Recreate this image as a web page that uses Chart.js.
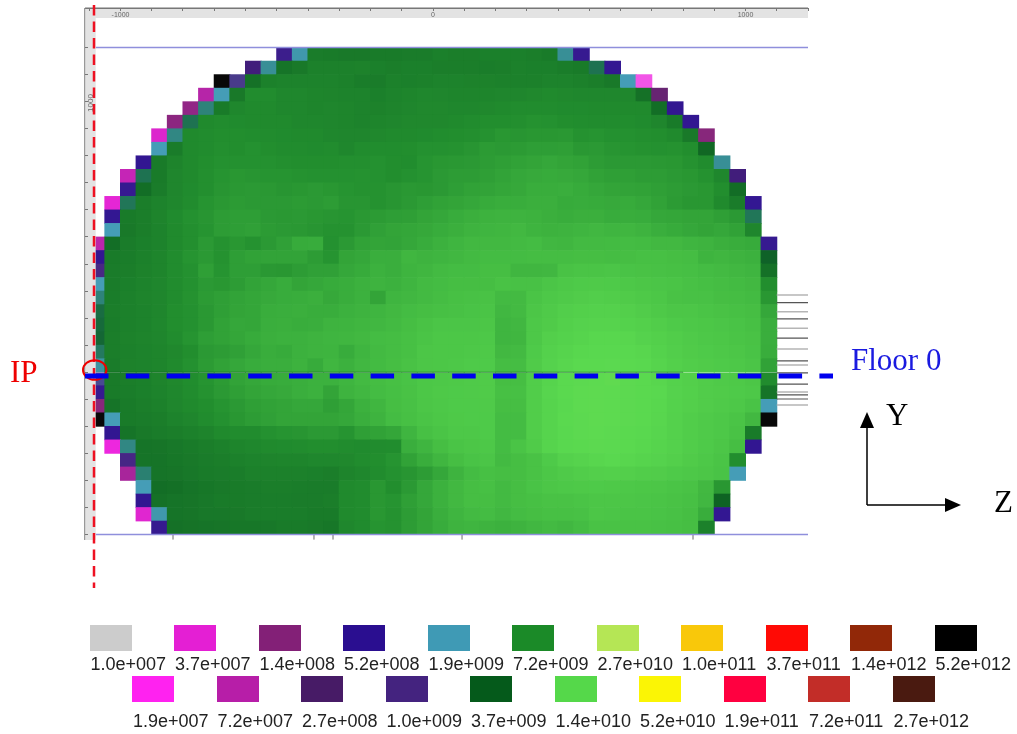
<!DOCTYPE html>
<html>
<head>
<meta charset="utf-8">
<title>Flux map</title>
<script src="https://cdn.jsdelivr.net/npm/chart.js@4/dist/chart.umd.min.js"></script>
<style>
  body { margin: 0; background: #fff; width: 1017px; height: 734px; position: relative; overflow: hidden; }
  canvas { position: absolute; left: 0; top: 0; filter: blur(0.6px); }
  .sw { position: absolute; width: 42px; height: 26px; }
  .lb { position: absolute; font: 18px "Liberation Sans", Arial, sans-serif; color: #222; line-height: 20px; white-space: nowrap; }
  .note { position: absolute; font: 31px "Liberation Serif", "Times New Roman", serif; line-height: 30px; white-space: nowrap; }
</style>
</head>
<body>
<canvas id="map" width="1017" height="734"></canvas>
<script>
// ================================================================
//  DATA
// ================================================================
const legendTopLabels = ['1.0e+007', '3.7e+007', '1.4e+008', '5.2e+008', '1.9e+009', '7.2e+009', '2.7e+010', '1.0e+011', '3.7e+011', '1.4e+012', '5.2e+012'];
const legendTopColors = ['#cccccc', '#e41fd4', '#832077', '#2a0e90', '#3f9ab5', '#1b8a28', '#b5e655', '#f9c80a', '#ff0a05', '#912808', '#000000'];
const legendLowLabels = ['1.9e+007', '7.2e+007', '2.7e+008', '1.0e+009', '3.7e+009', '1.4e+010', '5.2e+010', '1.9e+011', '7.2e+011', '2.7e+012'];
const legendLowColors = ['#ff22f0', '#b71ea8', '#471b66', '#44237f', '#055a1b', '#55d84a', '#fbf505', '#ff0040', '#c22d28', '#4a1a10'];

const xTicks = [-1100, -1000, -900, -800, -700, -600, -500, -400, -300, -200, -100, 0, 100, 200, 300, 400, 500, 600, 700, 800, 900, 1000, 1100, 1200];
const xTickLabels = [-1000, 0, 1000];
const yTicks = [1200, 1100, 1000, 900, 800, 700, 600, 500, 400, 300, 200, 100, 0, -100, -200, -300, -400, -500, -600];

// first occupied column of each row, 50 mm cells, top row first
const rowStart = [12, 10, 8, 7, 6, 5, 4, 4, 3, 2, 2, 1, 1, 1, 0, 0, 0, 0, 0, 0, 0, 0, 0, 0, 0, 0, 0, 0, 1, 1, 2, 2, 3, 3, 3, 4];

// flux per cell in units of 1e9
const fluxRows = [
  [0.7, 2.0, 5.6, 5.5, 5.4, 5.4, 5.5, 5.5, 5.6, 5.6, 5.9, 5.8, 5.8, 5.9, 5.9, 5.9, 5.8, 5.5, 2.2, 0.6],
  [0.35, 2.2, 5, 5.4, 6, 6, 6, 6.1, 5.9, 5.8, 5.9, 5.9, 5.8, 5.8, 5.8, 5.7, 5.8, 6, 5.9, 5.9, 5.7, 5.5, 3, 0.55],
  [5200, 1.1, 4.8, 6, 6.2, 6.2, 6.2, 6.2, 6, 5.7, 5.6, 6, 5.9, 6, 6.2, 6.2, 6.1, 6.1, 6, 6, 6, 6.2, 6.2, 6, 5.8, 5.4, 1.9, 0.016],
  [0.075, 1.9, 5.4, 7, 7, 6.6, 6.6, 6.4, 6.3, 6.2, 6.2, 5.9, 6.2, 6.4, 6.6, 6.5, 6.4, 6.4, 6.4, 6.5, 6.5, 6.7, 6.8, 6.7, 6.6, 6.6, 6.6, 6.6, 4.8, 0.2],
  [0.12, 2.5, 5.5, 6.6, 6.8, 6.8, 6.6, 6.6, 6.4, 6.5, 6.4, 6.2, 6.1, 6.3, 6.5, 6.7, 6.7, 6.6, 6.6, 6.7, 6.8, 7, 7, 7, 6.9, 6.9, 6.8, 6.8, 6.8, 6.8, 4.6, 0.5],
  [0.13, 3, 6.8, 7, 6.9, 6.8, 6.8, 6.8, 6.6, 6.6, 6.5, 6.4, 6.2, 6.4, 6.5, 6.7, 6.7, 6.7, 6.8, 7, 7.2, 7.2, 7.3, 7.5, 7.4, 7.2, 7.1, 7, 7, 7.1, 6.9, 6.5, 5.5, 0.5],
  [0.042, 2.4, 6.8, 7, 7.2, 7.2, 7.1, 7, 6.9, 6.8, 6.8, 6.6, 6.5, 6.5, 6.7, 6.8, 6.8, 6.9, 7.1, 7.2, 7.3, 7.5, 7.8, 7.7, 7.8, 7.8, 7.9, 7.5, 7.6, 7.4, 7.4, 7.3, 7.2, 6.8, 5.4, 0.14],
  [1.9, 5.6, 6.8, 7, 7.3, 7.2, 7.4, 7.2, 7, 7, 6.9, 7, 6.6, 7, 7.1, 7.1, 7.2, 7.4, 7.4, 7.5, 7.7, 8.1, 8, 8.1, 8.3, 8.3, 8.4, 7.9, 8, 7.7, 7.6, 7.5, 7.4, 7.5, 7.2, 4.2],
  [0.5, 5.5, 6.3, 6.8, 7.2, 7.4, 7.4, 7.4, 7.4, 7.3, 7.2, 7.2, 7.2, 7.3, 7.3, 7.4, 7.2, 7.1, 7.6, 7.8, 7.9, 8, 8.2, 8.4, 8.6, 8.8, 9, 8.8, 8.6, 8.2, 8, 8, 8, 7.9, 7.8, 7.5, 7, 2.2],
  [0.06, 3, 5.5, 6.5, 6.8, 7.3, 7.6, 7.8, 7.7, 7.6, 7.6, 7.5, 7.4, 7.4, 7.4, 7.5, 7.4, 7.2, 7.4, 7.6, 8, 8.2, 8.2, 8.4, 8.7, 9, 9.2, 9.3, 9.2, 9, 8.6, 8.4, 8.4, 8.2, 8.2, 8, 7.8, 7.5, 6.6, 0.35],
  [0.6, 4.6, 5.6, 6.5, 6.9, 7.3, 7.7, 7.9, 8, 7.9, 7.7, 7.8, 8, 7.8, 7.6, 7.5, 7.5, 7.7, 7.9, 7.8, 8, 8.3, 8.6, 8.7, 8.9, 9.1, 9.5, 9.5, 9.6, 9.3, 9, 8.8, 8.7, 8.6, 8.4, 8.2, 8, 7.8, 7.2, 4.5],
  [0.037, 2.9, 5.8, 6.2, 6.6, 7, 7.6, 7.9, 8.1, 8, 8, 8, 8.1, 8, 8.2, 7.7, 7.7, 7.5, 7.7, 8, 8.3, 8.6, 8.8, 9, 9.3, 9.5, 9.5, 9.7, 9.7, 9.3, 9.4, 9.3, 9.2, 9.3, 9, 8.6, 8.1, 7.8, 7.8, 6.8, 5.6, 0.55],
  [0.55, 5.5, 5.8, 6.3, 6.9, 7.4, 7.7, 8.2, 8.3, 8.3, 8, 7.9, 8, 7.8, 7.7, 7.6, 7.9, 8.1, 8.3, 8.4, 8.8, 9, 9.4, 9.7, 9.9, 10, 10, 9.9, 9.7, 9.5, 9.7, 9.7, 9.4, 9.5, 9.4, 9, 8.9, 8.8, 8.8, 8.4, 8, 2.9],
  [1.9, 5.4, 5.8, 6.2, 6.8, 7.3, 7.6, 8.2, 8.3, 8.5, 8.1, 8, 7.9, 7.7, 7.5, 7.5, 8, 8.5, 8.8, 8.9, 9.1, 9.4, 9.7, 10, 10.2, 10.3, 10.5, 10.1, 9.9, 10, 10.2, 10.4, 10.2, 10.3, 10, 9.6, 9.3, 9, 8.8, 9, 8.6, 6.5],
  [0.07, 4.6, 5.6, 5.9, 6.2, 6.8, 7.3, 8, 7.5, 7.8, 7.5, 8, 8.5, 9.3, 9.4, 7.4, 8, 8.6, 8.8, 8.7, 9, 9.4, 9.8, 10.2, 10.5, 10.5, 10.5, 10.6, 10.8, 10.4, 10.3, 10.6, 10.6, 10.7, 10.8, 10.7, 10.5, 10.5, 10.2, 10, 9.7, 9.5, 9.3, 0.6],
  [0.5, 5.5, 5.7, 6, 6.4, 7, 7.6, 8, 7.5, 8.3, 8.6, 8.7, 8.7, 8.7, 8.2, 7.6, 8.8, 9, 9.6, 9.6, 10.3, 10, 10.2, 10.4, 10.6, 10.8, 10.8, 10.8, 10.9, 10.9, 10.9, 11, 11, 10.9, 11, 11.2, 11.2, 11, 10.9, 10.1, 10.3, 10, 9.8, 3.6],
  [0.95, 5.6, 5.8, 6.1, 6.4, 7, 7.4, 8.4, 7.6, 8.3, 8.3, 7.9, 7.8, 8.2, 8.5, 8.5, 9, 9.3, 9.8, 9.6, 10.1, 10.3, 10.6, 10.8, 10.8, 11, 11, 10.3, 10.3, 10.4, 11.4, 11.6, 11.6, 11.7, 11.5, 11.4, 11.3, 11.2, 11.1, 10.8, 10.6, 10.4, 10.2, 4.8],
  [1.9, 5.6, 5.9, 6.2, 6.5, 7, 7.4, 8, 7.8, 8.2, 8.7, 9, 9.4, 8.8, 9, 9.3, 9.5, 9.8, 10, 9.8, 10.2, 10.6, 10.8, 11, 11, 11, 11.4, 11.3, 11.3, 11.7, 12, 12.2, 12.3, 12.2, 12, 11.8, 11.7, 11.6, 11.3, 11.1, 10.9, 10.7, 10.5, 7.2],
  [2.5, 5.7, 6, 6.3, 6.5, 7, 7.5, 8.1, 8.4, 8.7, 8.9, 9.2, 9.4, 9.5, 9.7, 9.1, 9.5, 9.8, 8.8, 10.2, 10.4, 10.6, 10.9, 11.2, 11.3, 11.4, 10.6, 10.6, 11.6, 12, 12.3, 12.5, 12.7, 12.6, 12.4, 12.1, 11.9, 11.4, 11.3, 11.3, 11, 10.9, 10.7, 7.8],
  [3.2, 5.8, 6, 6.2, 6.5, 7.2, 7.4, 7.9, 8.4, 8.8, 8.9, 9.5, 9.6, 9.7, 9.5, 9.5, 9.8, 10, 10.2, 10.5, 10.8, 11, 11.2, 11.3, 11.5, 11.6, 10.4, 10.6, 11.8, 12.3, 12.7, 12.9, 13, 13, 12.8, 12.5, 12.1, 11.8, 11.8, 11.6, 11.4, 11.2, 11, 9],
  [3.3, 5.7, 6, 6.2, 6.6, 7.2, 7.4, 7.9, 8.6, 9, 8.9, 9.6, 9.7, 9.5, 9.6, 10, 10.1, 10.3, 10.4, 10.6, 11, 11.4, 11.7, 11.7, 11.7, 11.8, 10.2, 10.4, 12, 12.4, 12.9, 13.2, 13.3, 13.3, 13.1, 12.9, 12.6, 12.2, 12, 11.9, 11.7, 11.5, 11.2, 9.6],
  [3.4, 5.8, 6.1, 6.3, 6.5, 7, 7.6, 8.3, 8.6, 8.9, 9.3, 9.7, 9.8, 9.8, 10, 10.2, 10.3, 10.5, 10.8, 10.9, 11.2, 11.6, 11.9, 11.9, 11.9, 12, 10.2, 10.3, 12, 12.8, 13.1, 13.4, 13.7, 13.7, 13.6, 13.2, 12.9, 12.6, 12.3, 12, 11.9, 11.6, 11.4, 9.6],
  [2.8, 5.8, 6, 6.2, 6.4, 6.7, 7.2, 8, 8.2, 8.5, 9, 9.5, 9.3, 9.8, 10, 10.1, 9.4, 10.2, 10.6, 10.9, 11.2, 11.8, 11.9, 11.9, 12, 12.1, 10.5, 10.6, 12.2, 13, 13.4, 13.7, 13.8, 13.9, 13.9, 13.6, 13.1, 12.7, 12.4, 12.2, 12, 11.8, 11.5, 9.5],
  [2.1, 5.6, 6.1, 6.2, 6.4, 6.8, 7.4, 8.1, 8.6, 9, 9.4, 9.6, 9.6, 9.9, 9.3, 10.3, 9.8, 10.4, 10.7, 11, 11.4, 11.8, 11.9, 12, 12.2, 12.2, 10.9, 10.9, 12.4, 13.2, 13.6, 14, 14, 14.1, 14, 13.8, 13.4, 12.9, 12.6, 12.4, 12.2, 12, 11.7, 8.6],
  [1.2, 5.5, 5.8, 5.9, 6.3, 6.7, 7.1, 7.6, 8.1, 8.7, 9, 9.3, 9.4, 9.6, 9.8, 9.8, 10.2, 10.6, 10.9, 11.2, 11.5, 11.9, 12, 12.1, 12.3, 12.4, 11, 11, 12.6, 13.4, 14, 14.2, 14.3, 14.6, 14.2, 14, 13.6, 13.1, 12.8, 12.5, 12.3, 12.1, 11.8, 7],
  [0.6, 5.5, 5.7, 5.9, 6.2, 6.6, 7, 7.5, 8, 8.4, 8.8, 9, 9.2, 9.6, 9.8, 8.8, 10, 10.4, 10.8, 11.1, 11.4, 11.9, 12.1, 12.2, 12.3, 12.4, 11.2, 11.2, 12.6, 13.5, 14, 14.3, 14.4, 14.3, 14.2, 14, 13.8, 13.2, 12.9, 12.5, 12.4, 12.2, 12, 5],
  [0.14, 5, 5.5, 5.8, 6, 6.5, 6.8, 7.2, 7.6, 8, 8.4, 8.6, 8.8, 9, 9, 8.4, 8.9, 9.8, 10.3, 11, 11.3, 11.8, 12, 12.2, 12.2, 12.3, 11, 11, 12.6, 13.4, 13.9, 14.3, 14.4, 14.3, 14.2, 14, 13.7, 13.1, 12.8, 12.5, 12.3, 12, 11.5, 1.9],
  [5200, 1.9, 5.5, 5.6, 5.8, 6.2, 6.5, 7, 7.4, 7.8, 8.2, 8.5, 8.8, 8.8, 8.8, 8.8, 9, 9.6, 10, 10.8, 11.2, 11.6, 11.9, 12.1, 12.2, 12.2, 10.8, 10.8, 12.6, 13.4, 14, 14.2, 14.4, 14.3, 14.2, 14, 13.6, 13, 12.6, 12.3, 12, 11.6, 10.5, 5200],
  [0.5, 5, 5.4, 5.6, 5.8, 6, 6.3, 6.8, 7, 7, 7.4, 7.6, 7.7, 8, 8, 7.6, 8.4, 8.6, 8.9, 10.2, 11.2, 11.6, 12, 12, 12.2, 10.8, 10.8, 12.6, 13.4, 13.9, 14.2, 14.3, 14.2, 14, 13.9, 13.5, 13, 12.6, 12.3, 12, 11.4, 5.5],
  [0.03, 2.4, 5, 5.1, 5.3, 5.5, 5.8, 6, 6.4, 6.6, 6.8, 6.9, 7, 7.2, 7.2, 7, 6.9, 7, 7.1, 9.6, 10.2, 11, 11.6, 11.8, 12, 10.8, 11.6, 12.4, 13.4, 13.8, 14, 14.2, 14.1, 14, 13.7, 13.4, 13, 12.6, 12.2, 11.8, 11, 0.5],
  [0.9, 5, 5, 5.2, 5.4, 5.6, 5.8, 6, 6.2, 6.3, 6.4, 6.4, 6.6, 6.6, 6.7, 7, 7.2, 7.6, 8.6, 9.5, 10.3, 11, 11.5, 11.7, 10.6, 11, 11.4, 12.2, 13, 13.3, 13.6, 13.8, 13.6, 13.4, 13.2, 12.8, 12.4, 12, 11.6, 7.2],
  [0.09, 2.6, 5, 5.1, 5.3, 5.5, 5.6, 5.7, 6, 6, 6, 6, 5.9, 5.8, 6.3, 6.6, 7, 7.4, 7.7, 8.2, 9, 10, 10.8, 11.2, 11, 11, 11.4, 11.9, 12.3, 12.6, 12.8, 12.9, 12.8, 12.6, 12.5, 12.2, 12, 11.8, 11.5, 1.9],
  [1.9, 4.6, 4.7, 5, 5.2, 5.4, 5.5, 5.6, 5.8, 5.8, 5.7, 5.6, 5.6, 6.8, 7, 7.8, 7.2, 8, 9, 9.8, 10.5, 11, 11.2, 10.6, 11, 11.5, 11.8, 12, 12.1, 12.2, 12.1, 12, 11.9, 11.8, 11.6, 11.4, 10.5, 7.8],
  [0.5, 4.8, 5, 5.1, 5.3, 5.5, 5.5, 5.6, 5.7, 5.7, 5.6, 5.6, 5.8, 6.8, 7, 7.8, 7.6, 8.4, 9, 9.8, 10.5, 11, 11, 10.6, 11, 11.2, 11.4, 11.4, 11.6, 11.8, 11.8, 11.8, 11.7, 11.6, 11.4, 11.2, 10.4, 3.9],
  [0.04, 2, 5, 5.1, 5.3, 5.3, 5.4, 5.6, 5.7, 5.7, 5.7, 5.5, 5.5, 6.8, 7, 7.8, 7.5, 8.2, 8.8, 9.6, 10.2, 10.6, 10.8, 10.4, 10.8, 11, 11.2, 11.2, 11.3, 11.8, 11.7, 11.6, 11.6, 11.5, 11.3, 11, 9.5, 0.55],
  [0.6, 4.8, 4.9, 5, 5.1, 5.2, 5.2, 5.3, 5.5, 5.5, 5.4, 5.2, 6.6, 6.9, 7.6, 7.5, 8.2, 8.8, 9.4, 10, 10.2, 10, 9.8, 10, 10.4, 10.6, 10.4, 10.8, 11.4, 11.4, 11.4, 11.4, 11.3, 11.2, 11, 6]
];

// instrument hatch marks on the right side, y in mm
const hatchLight = [285, 224, 163, 86, 27, -73, -121];
const hatchDark = [257, 197, 126, 42, -2, -44, -84, -99];
const lowerStubs = [-832, -381, -320, 93, 832];

// ================================================================
//  COLOUR SCALE
// ================================================================
function hexRgb(h) {
  return [parseInt(h.slice(1, 3), 16), parseInt(h.slice(3, 5), 16), parseInt(h.slice(5, 7), 16)];
}

const palette = [];
legendTopLabels.forEach((l, i) => palette.push({ v: parseFloat(l), c: hexRgb(legendTopColors[i]) }));
legendLowLabels.forEach((l, i) => palette.push({ v: parseFloat(l), c: hexRgb(legendLowColors[i]) }));
palette.sort((a, b) => a.v - b.v);

// cells in the map come out a little paler than the legend swatches
function fluxColor(flux) {
  const v = flux * 1e9;
  let i = 0;
  while (i < palette.length - 2 && palette[i + 1].v < v) i++;
  const a = palette[i], b = palette[i + 1];
  const t = Math.min(1, Math.max(0, Math.log(v / a.v) / Math.log(b.v / a.v)));
  const c = a.c.map((ch, k) => Math.round((ch + (b.c[k] - ch) * t) * 0.97 + 255 * 0.03));
  return `rgb(${c[0]},${c[1]},${c[2]})`;
}

// ================================================================
//  CELLS + LINES
// ================================================================
const cells = [], cellColors = [];
fluxRows.forEach((row, r) => {
  const top = 1200 - 50 * r;
  row.forEach((flux, i) => {
    cells.push({ x: -1075 + 50 * (rowStart[r] + i), y: [top - 50, top] });
    cellColors.push(fluxColor(flux));
  });
});

function hLines(ys, x0, x1) {
  const pts = [];
  ys.forEach(y => { pts.push({ x: x0, y }, { x: x1, y }, { x: NaN, y: NaN }); });
  return pts;
}
function vLines(xs, y0, y1) {
  const pts = [];
  xs.forEach(x => { pts.push({ x, y: y0 }, { x, y: y1 }, { x: NaN, y: NaN }); });
  return pts;
}
function lineSet(data, color, width) {
  return { type: 'scatter', data, showLine: true, borderColor: color, borderWidth: width, pointRadius: 0, spanGaps: false, order: 1 };
}

// grey instrument frame, painted over the first cell column
const framePlugin = {
  id: 'frame',
  afterDatasetsDraw(chart) {
    const c = chart.ctx;
    c.save();
    c.fillStyle = '#e3e3e3';
    c.fillRect(85, 8, 723, 10);
    c.fillRect(85, 8, 10.7, 532);
    c.fillStyle = '#777777';
    c.fillRect(85, 7.5, 723, 1.5);
    c.fillStyle = '#999999';
    c.fillRect(84, 8, 1.2, 532);
    c.restore();
  },
  afterDraw(chart) {
    const c = chart.ctx;
    c.save();
    // rotated y label of the frame
    c.translate(91, 103);
    c.rotate(-Math.PI / 2);
    c.fillStyle = '#666666';
    c.font = '8px "Liberation Sans"';
    c.textAlign = 'center';
    c.textBaseline = 'middle';
    c.fillText('1000', 0, 0);
    c.restore();

    c.save();
    // beam axis through IP
    c.strokeStyle = '#ee1122';
    c.lineWidth = 2.5;
    c.setLineDash([10.5, 6]);
    c.beginPath(); c.moveTo(94, 5); c.lineTo(94, 588); c.stroke();
    c.setLineDash([]);
    c.lineWidth = 2;
    c.strokeStyle = '#ee0000';
    c.beginPath(); c.ellipse(94.7, 370, 11.7, 9.8, 0, 0, Math.PI * 2); c.stroke();
    // floor 0
    c.strokeStyle = '#0000ee';
    c.lineWidth = 5;
    c.setLineDash([23.5, 17.3]);
    c.beginPath(); c.moveTo(85, 376); c.lineTo(833, 376); c.stroke();
    c.setLineDash([]);
    // Y / Z arrows
    c.strokeStyle = '#000';
    c.fillStyle = '#000';
    c.lineWidth = 1.5;
    c.beginPath(); c.moveTo(867, 505); c.lineTo(867, 420); c.moveTo(867, 505); c.lineTo(950, 505); c.stroke();
    c.beginPath(); c.moveTo(867, 412); c.lineTo(860, 428); c.lineTo(874, 428); c.closePath(); c.fill();
    c.beginPath(); c.moveTo(961, 505); c.lineTo(945, 498); c.lineTo(945, 512); c.closePath(); c.fill();
    c.restore();
  }
};

new Chart(document.getElementById('map'), {
  type: 'bar',
  data: {
    datasets: [
      lineSet(hLines([0], -1050, 800), 'rgba(0,90,20,0.55)', 1),
      lineSet(hLines([1200, -600], -1079, 1200), '#8f8fdc', 1.5),
      lineSet(hLines(hatchLight, 1100, 1200), '#b5b5b5', 1.5),
      lineSet(hLines(hatchDark, 1100, 1200), '#555555', 1.2),
      lineSet(vLines(lowerStubs, -600, -618), '#aaaaaa', 1),
      { data: cells, backgroundColor: cellColors, borderWidth: 0, barThickness: 16, order: 2 }
    ]
  },
  options: {
    responsive: false,
    animation: false,
    events: [],
    layout: { padding: 0 },
    plugins: { legend: { display: false }, tooltip: { enabled: false } },
    scales: {
      x: {
        type: 'linear',
        min: -1385.6, max: 1868.8,
        offset: false,
        position: { y: 1345 },
        border: { display: false },
        grid: { z: 1, offset: false, drawOnChartArea: false, tickLength: 3, color: '#777777' },
        afterBuildTicks: s => { s.ticks = xTicks.map(value => ({ value })); },
        ticks: {
          z: 1, autoSkip: false, maxRotation: 0, padding: 0,
          color: '#666666', font: { size: 7, family: 'Liberation Sans' },
          callback: v => xTickLabels.includes(v) ? String(v) : ''
        }
      },
      y: {
        type: 'linear',
        min: -1337, max: 1375.7,
        stacked: false,
        position: { x: -1104 },
        border: { display: false },
        grid: { z: 1, drawOnChartArea: false, tickLength: 3, color: '#777777' },
        afterBuildTicks: s => { s.ticks = yTicks.map(value => ({ value })); },
        ticks: { display: false }
      }
    }
  },
  plugins: [framePlugin]
});

// ================================================================
//  LEGEND + NOTES
// ================================================================
function addLegendRow(labels, colors, x0, swatchTop, labelTop) {
  labels.forEach((text, i) => {
    const sw = document.createElement('div');
    sw.className = 'sw';
    sw.style.cssText = `left:${x0 + i * 84.5}px;top:${swatchTop}px;background:${colors[i]}`;
    document.body.appendChild(sw);
    const lb = document.createElement('div');
    lb.className = 'lb';
    lb.style.cssText = `left:${x0 + 1 + i * 84.5}px;top:${labelTop}px`;
    lb.textContent = text;
    document.body.appendChild(lb);
  });
}
addLegendRow(legendTopLabels, legendTopColors, 89.5, 625, 654);
addLegendRow(legendLowLabels, legendLowColors, 132, 676, 711);

[['IP', 10, 357, '#ee0000'], ['Floor 0', 851, 345, '#1a1ae0'], ['Y', 886, 400, '#000'], ['Z', 994, 487, '#000']].forEach(n => {
  const d = document.createElement('div');
  d.className = 'note';
  d.style.cssText = `left:${n[1]}px;top:${n[2]}px;color:${n[3]}`;
  d.textContent = n[0];
  document.body.appendChild(d);
});
</script>
</body>
</html>
